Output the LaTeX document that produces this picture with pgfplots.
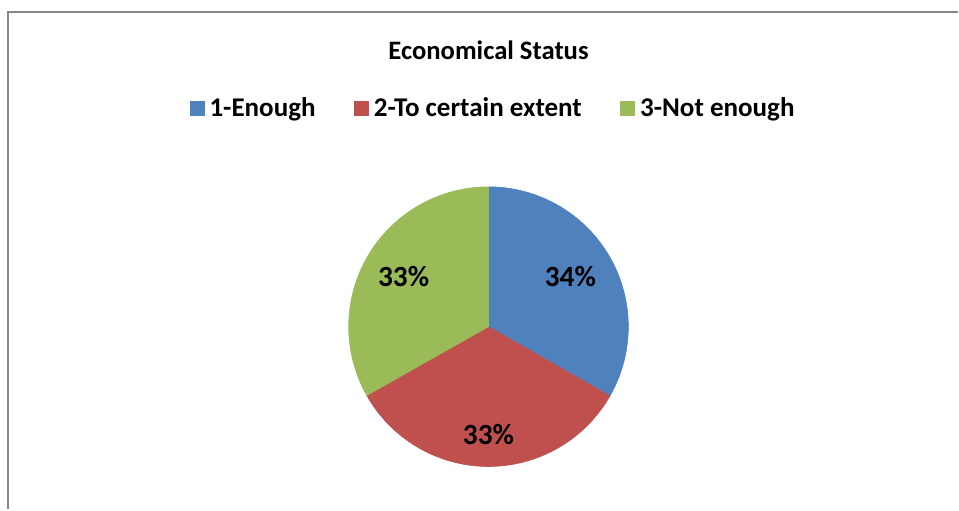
\documentclass[border=0pt]{standalone}
\usepackage{pgfplots}
\pgfplotsset{compat=1.18}
\usepackage{fontspec}
\setmainfont{Carlito}
\definecolor{cBlue}{HTML}{4F81BD}
\definecolor{cRed}{HTML}{C0504D}
\definecolor{cGreen}{HTML}{9BBB59}
\definecolor{cFrame}{HTML}{868686}
% slice shares (percent) as drawn
\def\vA{33.25}\def\vB{33.55}\def\vC{33.2}
\pgfmathsetmacro\aA{90}
\pgfmathsetmacro\aB{\aA-3.6*\vA}
\pgfmathsetmacro\aC{\aB-3.6*\vB}
\pgfmathsetmacro\aD{\aA-360}
\pgfplotsset{sqleg/.style={legend image code/.code={\fill[##1] (0pt,-5.2pt) rectangle (10.4pt,5.2pt);}}}
\begin{document}
\begin{tikzpicture}
\begin{axis}[
  scale only axis, width=719.25pt, height=382.5pt,
  xmin=0, xmax=959, ymin=0, ymax=510,
  hide axis, clip=false,
  legend style={draw=none, fill=none, at={(axis cs:494,402)}, anchor=center,
    legend columns=3, font=\bfseries\fontsize{20.3}{23}\selectfont,
    /tikz/every even column/.append style={column sep=27pt},
    /tikz/every odd column/.append style={column sep=2pt},
    legend cell align=left},
]
\path (axis cs:0,0) rectangle (axis cs:959,510);
\addplot[fill=cBlue, draw=cBlue, sqleg, domain=\aB:\aA, samples=80]
  ({489+140*cos(x)},{183+140*sin(x)}) -- (axis cs:489,183) -- cycle;
\addlegendentry{1-Enough}
\addplot[fill=cRed, draw=cRed, sqleg, domain=\aC:\aB, samples=80]
  ({489+140*cos(x)},{183+140*sin(x)}) -- (axis cs:489,183) -- cycle;
\addlegendentry{2-To certain extent}
\addplot[fill=cGreen, draw=cGreen, sqleg, domain=\aD:\aC, samples=80]
  ({489+140*cos(x)},{183+140*sin(x)}) -- (axis cs:489,183) -- cycle;
\addlegendentry{3-Not enough}
\draw[cFrame, line width=1.5pt] (axis cs:8,0) -- (axis cs:8,498) -- (axis cs:959,498);
\node[font=\bfseries\fontsize{20}{23}\selectfont] at (axis cs:489,460) {Economical Status};
\node[font=\bfseries\fontsize{22}{26}\selectfont] at (axis cs:571,233) {34\%};
\node[font=\bfseries\fontsize{22}{26}\selectfont] at (axis cs:404,233) {33\%};
\node[font=\bfseries\fontsize{22}{26}\selectfont] at (axis cs:489,75) {33\%};
\end{axis}
\end{tikzpicture}
\end{document}
